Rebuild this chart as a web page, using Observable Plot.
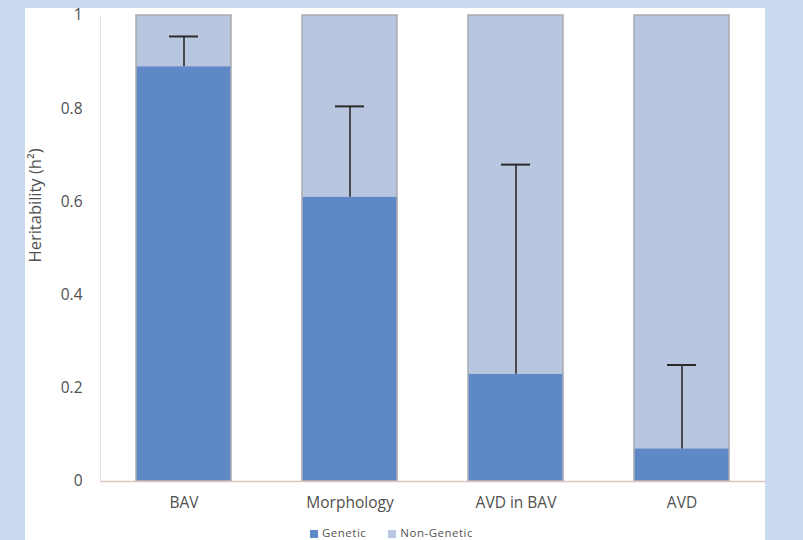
<!DOCTYPE html>
<html>
<head>
<meta charset="utf-8">
<script src="https://cdn.jsdelivr.net/npm/d3@7"></script>
<script src="https://cdn.jsdelivr.net/npm/@observablehq/plot@0.6"></script>
<style>
  html, body { margin: 0; padding: 0; background: #c9d9ef; }
  #wrap { position: relative; width: 803px; height: 540px; overflow: hidden; font-family: "Open Sans", sans-serif; }
  #panel { position: absolute; left: 25px; top: 8px; width: 740px; height: 540px; background: #ffffff; }
  #chart { position: absolute; left: 0; top: 0; }
  #legend { position: absolute; left: 310px; top: 525px; font-size: 11.5px; letter-spacing: 0.5px; color: #555; display: flex; gap: 22px; align-items: center; }
  #legend span.sw { display: inline-block; width: 8px; height: 8px; margin-right: 4px; vertical-align: -1px; }
</style>
</head>
<body>
<div id="wrap">
  <div id="panel"></div>
  <div id="chart"></div>
  <div id="legend"></div>
</div>
<script>
const categories = ["BAV", "Morphology", "AVD in BAV", "AVD"];
const genetic = [0.89, 0.61, 0.23, 0.07];
const upper = [0.955, 0.805, 0.68, 0.25];
const seriesNames = ["Genetic", "Non-Genetic"];
const seriesColors = ["#5f89c6", "#b9c6df"];
const yTicks = [0, 0.2, 0.4, 0.6, 0.8, 1];
const yLabel = "Heritability (h²)";

const rows = categories.map((c, i) => ({cat: c, g: genetic[i], hi: upper[i]}));

const plot = Plot.plot({
  width: 803,
  height: 540,
  marginLeft: 100,
  marginRight: 38,
  marginTop: 15,
  marginBottom: 59,
  style: {background: "transparent", fontFamily: "'Open Sans', sans-serif", fontSize: "15.5px", color: "#505050"},
  x: {domain: categories, paddingInner: 0.43, paddingOuter: 0.215, label: null, tickSize: 0, tickPadding: 15},
  y: {domain: [0, 1], ticks: yTicks, tickFormat: d => d3.format("")(d), label: null, tickSize: 0, tickPadding: 18},
  marks: [
    Plot.frame({anchor: "left", stroke: "#e3e0dc"}),
    Plot.barY(rows, {x: "cat", y1: "g", y2: 1, fill: seriesColors[1]}),
    Plot.barY(rows, {x: "cat", y1: 0, y2: "g", fill: seriesColors[0]}),
    Plot.barY(rows, {x: "cat", y1: 0, y2: 1, fill: "none", stroke: "#a9aab0", strokeWidth: 1.5}),
    Plot.ruleX(rows, {x: "cat", y1: "g", y2: "hi", stroke: "#2b2b2b", strokeWidth: 1.6}),
    Plot.tickY(rows, {x: "cat", y: "hi", stroke: "#2b2b2b", strokeWidth: 2, insetLeft: 33, insetRight: 33}),
    Plot.ruleY([0], {stroke: "#dcc6bf", strokeWidth: 1.5}),
    Plot.text([yLabel], {frameAnchor: "left", textAnchor: "middle", rotate: -90, dx: -65, dy: -43, fontSize: 16.5, fill: "#505050"})
  ]
});
document.getElementById("chart").appendChild(plot);

const legend = document.getElementById("legend");
seriesNames.forEach((n, i) => {
  const item = document.createElement("div");
  item.innerHTML = `<span class="sw" style="background:${seriesColors[i]}"></span>${n}`;
  legend.appendChild(item);
});
</script>
</body>
</html>
